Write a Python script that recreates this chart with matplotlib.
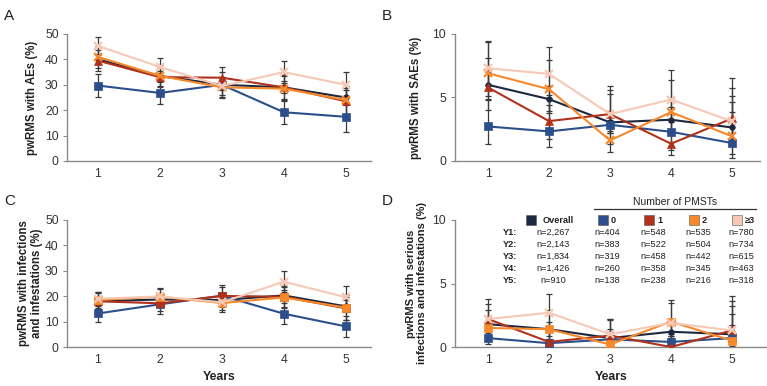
import matplotlib
matplotlib.use("Agg")
import matplotlib.pyplot as plt
from matplotlib.patches import Rectangle

plt.rcParams['font.family'] = ['Liberation Sans', 'DejaVu Sans']

W, H = 767, 386

years = [1, 2, 3, 4, 5]
groups = ["Overall", "0", "1", "2", "\u22653"]
colors = ["#1c2840", "#2c4f8c", "#b0321b", "#f5892c", "#f6c8b6"]

# values per group: Overall, 0, 1, 2, >=3
ae_vals = [[40.0, 33.5, 30.0, 29.0, 25.0],
           [29.7, 26.8, 30.0, 19.2, 17.4],
           [39.5, 33.0, 32.8, 29.0, 23.5],
           [41.0, 33.5, 29.0, 28.5, 24.0],
           [45.3, 37.0, 29.5, 35.0, 30.0]]
ae_err = [[2.0, 2.0, 2.1, 2.4, 2.8],
          [4.5, 4.4, 5.0, 4.8, 6.0],
          [4.1, 4.0, 4.3, 4.7, 5.4],
          [4.2, 4.1, 4.2, 4.8, 5.7],
          [3.4, 3.5, 3.6, 4.4, 5.2]]

sae_vals = [[6.0, 4.87, 3.04, 3.25, 2.64],
            [2.72, 2.33, 2.85, 2.3, 1.41],
            [5.79, 3.14, 3.69, 1.36, 3.35],
            [6.91, 5.65, 1.62, 3.85, 1.94],
            [7.3, 6.86, 3.69, 4.84, 3.12]]
sae_lo = [[0.9, 0.9, 0.8, 0.9, 1.0],
          [1.35, 1.2, 1.5, 1.45, 1.2],
          [1.8, 1.4, 1.5, 0.9, 1.9],
          [2.0, 1.9, 0.95, 1.8, 1.4],
          [1.7, 1.7, 1.3, 1.8, 1.6]]
sae_hi = [[1.0, 1.0, 0.9, 1.0, 1.2],
          [2.1, 2.1, 2.4, 2.65, 3.7],
          [2.3, 1.8, 2.2, 1.9, 3.2],
          [2.5, 2.3, 1.6, 2.5, 2.7],
          [2.1, 2.1, 1.9, 2.3, 2.6]]

inf_vals = [[18.0, 18.7, 18.5, 20.3, 16.0],
            [13.2, 16.8, 20.2, 13.1, 8.1],
            [18.0, 17.2, 20.1, 19.8, 15.2],
            [18.5, 19.8, 17.3, 19.5, 15.5],
            [19.0, 19.9, 17.6, 25.7, 19.6]]
inf_err = [[1.6, 1.7, 1.8, 2.1, 2.4],
           [3.3, 3.7, 4.4, 4.1, 4.2],
           [3.2, 3.2, 3.7, 4.1, 4.6],
           [3.3, 3.5, 3.5, 4.2, 4.9],
           [2.8, 2.9, 3.0, 4.2, 4.6]]

sinf_vals = [[1.8, 1.4, 0.7, 1.2, 1.0],
             [0.7, 0.3, 0.6, 0.4, 0.7],
             [2.2, 0.4, 0.9, 0.0, 1.3],
             [1.5, 1.4, 0.2, 2.0, 0.5],
             [2.2, 2.7, 1.0, 1.9, 1.3]]
sinf_lo = [[0.5, 0.5, 0.3, 0.5, 0.5],
           [0.5, 0.25, 0.5, 0.35, 0.7],
           [1.1, 0.35, 0.6, 0.0, 0.8],
           [0.9, 0.8, 0.2, 1.1, 0.4],
           [0.9, 1.2, 0.6, 1.0, 1.0]]
sinf_hi = [[0.6, 0.6, 0.5, 0.6, 0.7],
           [1.3, 1.2, 1.5, 1.7, 3.3],
           [1.6, 1.0, 1.3, 1.0, 2.3],
           [1.4, 1.5, 1.2, 1.7, 2.1],
           [1.2, 1.5, 1.2, 1.6, 1.9]]

table_rows = ["Y1:", "Y2:", "Y3:", "Y4:", "Y5:"]
n_overall = ["2,267", "2,143", "1,834", "1,426", "910"]
n_0 = ["404", "383", "319", "260", "138"]
n_1 = ["548", "522", "458", "358", "238"]
n_2 = ["535", "504", "442", "345", "216"]
n_3 = ["780", "734", "615", "463", "318"]

fig = plt.figure(figsize=(W / 100, H / 100), dpi=100)


def px_axes(l, t, r, b):
    return fig.add_axes([l / W, 1 - b / H, (r - l) / W, (b - t) / H])


def draw_panel(ax, vals, lo, hi, markers, ymax, yticks, xlim):
    for i in range(5):
        ax.errorbar(years, vals[i], yerr=[lo[i], hi[i]], fmt="none",
                    ecolor="#3a3a3a", elinewidth=0.9, capsize=2.5,
                    capthick=0.9, zorder=2)
    for i in range(5):
        ms = 4 if markers[i] == "o" else 6
        mew = 1.6 if markers[i] == "x" else 0.5
        ax.plot(years, vals[i], color=colors[i], marker=markers[i],
                markersize=ms, markeredgewidth=mew, linewidth=1.5, zorder=3 + i * 0.1)
    ax.set_xlim(*xlim)
    ax.set_ylim(0, ymax)
    ax.set_yticks(yticks)
    ax.set_xticks(years)
    for s in ["top", "right"]:
        ax.spines[s].set_visible(False)
    for s in ["left", "bottom"]:
        ax.spines[s].set_color("#8a8a8a")
        ax.spines[s].set_linewidth(1.0)
    ax.tick_params(axis="x", length=0, pad=5, labelsize=8.8, colors="#333333")
    ax.tick_params(axis="y", length=3, width=0.8, color="#8a8a8a", pad=3,
                   labelsize=8.8, labelcolor="#333333")


mk_ab = ["o", "s", "^", "x", "x"]
mk_c = ["o", "s", "s", "s", "x"]
mk_d = ["o", "s", "^", "s", "x"]

axA = px_axes(67, 34, 370.6, 161)
draw_panel(axA, ae_vals, ae_err, ae_err, mk_ab, 50, [0, 10, 20, 30, 40, 50], (0.5, 5.4))
axB = px_axes(454.5, 34, 759.5, 161)
draw_panel(axB, sae_vals, sae_lo, sae_hi, mk_ab, 10, [0, 5, 10], (0.45, 5.45))
axC = px_axes(67, 220, 370.6, 347)
draw_panel(axC, inf_vals, inf_err, inf_err, mk_c, 50, [0, 10, 20, 30, 40, 50], (0.5, 5.4))
axD = px_axes(454.5, 220, 765.5, 347)
draw_panel(axD, sinf_vals, sinf_lo, sinf_hi, mk_d, 10, [0, 5, 10], (0.45, 5.55))

lab = dict(fontsize=8.3, fontweight="bold", color="#222222", linespacing=1.1)
axA.set_ylabel("pwRMS with AEs (%)", **lab)
axA.yaxis.set_label_coords((38 - 67) / 303.6, 0.5)
axB.set_ylabel("pwRMS with SAEs (%)", **lab)
axB.yaxis.set_label_coords((422 - 454.5) / 305, 0.5)
axC.set_ylabel("pwRMS with infections\nand infestations (%)", **lab)
axC.yaxis.set_label_coords((43 - 67) / 303.6, 0.5)
axD.set_ylabel("pwRMS with serious\ninfections and infestations (%)", fontsize=8.0,
               fontweight="bold", color="#222222", linespacing=1.1)
axD.yaxis.set_label_coords((427 - 454.5) / 311, 0.5)

fig.text(219 / W, 1 - 377 / H, "Years", ha="center", va="center", fontsize=8.8, fontweight="bold", color="#222222")
fig.text(611 / W, 1 - 377 / H, "Years", ha="center", va="center", fontsize=8.8, fontweight="bold", color="#222222")

for letter, x, y in [("A", 4, 16), ("B", 382, 16), ("C", 4, 201), ("D", 382, 201)]:
    fig.text(x / W, 1 - y / H, letter, ha="left", va="center", fontsize=11, color="#222222")

# table legend in panel D
fig.text(675 / W, 1 - 202 / H, "Number of PMSTs", ha="center", va="center", fontsize=7.5, color="#222222")
fig.add_artist(plt.Line2D([594 / W, 756 / W], [1 - 208.5 / H, 1 - 208.5 / H],
                          color="#333333", linewidth=0.9, transform=fig.transFigure))

patch_x = [526, 598, 644, 689, 732]
label_x = [543, 611, 657, 702, 745]
for i in range(5):
    fig.add_artist(Rectangle((patch_x[i] / W, 1 - 225 / H), 9.5 / W, 9.5 / H,
                             facecolor=colors[i], edgecolor="#555555", linewidth=0.4,
                             transform=fig.transFigure))
    fig.text(label_x[i] / W, 1 - 220.5 / H, groups[i], ha="left", va="center",
             fontsize=6.6, fontweight="bold", color="#222222")

col_x = [553, 607, 653, 698, 741]
cols = [n_overall, n_0, n_1, n_2, n_3]
for r in range(5):
    yy = 1 - (232.5 + r * 12.1) / H
    fig.text(517 / W, yy, table_rows[r], ha="right", va="center", fontsize=6.6, fontweight="bold", color="#222222")
    for c in range(5):
        fig.text(col_x[c] / W, yy, "n=" + cols[c][r], ha="center", va="center", fontsize=6.6, color="#222222")

fig.savefig("out.png", dpi=100)
